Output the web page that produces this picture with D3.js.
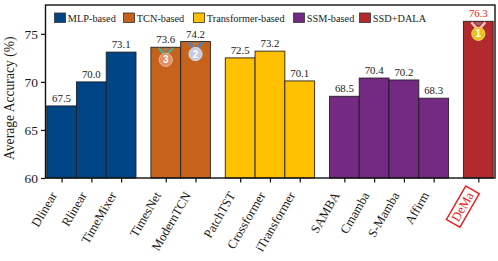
<!DOCTYPE html>
<html>
<head>
<meta charset="utf-8">
<script src="https://cdn.jsdelivr.net/npm/d3@7"></script>
<style>
  html, body { margin: 0; padding: 0; background: #fff; }
  text { font-family: "Liberation Serif", serif; fill: #1a1a1a; }
</style>
</head>
<body>
<svg id="chart" width="498" height="261"></svg>
<script>
const models = ["Dlinear", "Rlinear", "TimeMixer", "TimesNet", "ModernTCN", "PatchTST", "Crossformer", "iTransformer", "SAMBA", "Cmamba", "S-Mamba", "Affirm", "DeMa"];
const accuracy = [67.5, 70.0, 73.1, 73.6, 74.2, 72.5, 73.2, 70.1, 68.5, 70.4, 70.2, 68.3, 76.3];
const groupOf = [0, 0, 0, 1, 1, 2, 2, 2, 3, 3, 3, 3, 4];
const groups = ["MLP-based", "TCN-based", "Transformer-based", "SSM-based", "SSD+DALA"];
const groupColors = ["#004586", "#c5631c", "#ffc000", "#742a83", "#b22a2e"];
const yTicks = [60, 65, 70, 75];
const medals = [
  { model: "DeMa", rank: 1, ribbon: "#f7c4bc", disc: "#eec21c", ring: "#f6d75c" },
  { model: "ModernTCN", rank: 2, ribbon: "#4c86c6", disc: "#c3cbe0", ring: "#d8deec" },
  { model: "TimesNet", rank: 3, ribbon: "#3fb39a", disc: "#e08f68", ring: "#efb79c" }
];

const margin = { top: 5, right: 3, bottom: 83, left: 45.5 };
const width = 498, height = 261;

const svg = d3.select("#chart");

// half a bar of gap whenever the group changes
let pos = 0;
const barPos = models.map((m, i) => {
  if (i > 0 && groupOf[i] !== groupOf[i - 1]) pos += 1.5;
  else if (i > 0) pos += 1;
  return pos;
});

const x = d3.scaleLinear().domain([-0.54, 14.56]).range([margin.left, width - margin.right]);
const y = d3.scaleLinear().domain([60, 78]).range([height - margin.bottom, margin.top]);
const barW = x(1) - x(0);

svg.selectAll("rect.bar")
  .data(models)
  .enter().append("rect")
  .attr("class", "bar")
  .attr("x", (d, i) => x(barPos[i]) - barW / 2)
  .attr("y", (d, i) => y(accuracy[i]))
  .attr("width", barW)
  .attr("height", (d, i) => y(60) - y(accuracy[i]))
  .attr("fill", (d, i) => groupColors[groupOf[i]])
  .attr("stroke", "#1a1a1a")
  .attr("stroke-opacity", 0.85)
  .attr("stroke-width", 1);

// value labels
svg.selectAll("text.val")
  .data(models)
  .enter().append("text")
  .attr("class", "val")
  .attr("x", (d, i) => x(barPos[i]))
  .attr("y", (d, i) => y(accuracy[i]) - 4)
  .attr("text-anchor", "middle")
  .attr("font-size", 10.8)
  .style("fill", d => d === "DeMa" ? "#f01818" : "#1a1a1a")
  .text((d, i) => accuracy[i].toFixed(1));

// medals
medals.forEach(m => {
  const i = models.indexOf(m.model);
  const cx = x(barPos[i]);
  const top = y(accuracy[i]);
  const g = svg.append("g").attr("transform", `translate(${cx},${top})`);
  g.append("path")
    .attr("d", "M-7,1 L-1.5,7 M7,1 L1.5,7")
    .attr("stroke", m.ribbon).attr("stroke-width", 2.4).attr("fill", "none");
  g.append("path")
    .attr("d", "M-3.5,1 L3.5,1 L1.5,4 L-1.5,4 Z")
    .attr("fill", "#8a8f98").attr("opacity", 0.6);
  g.append("circle").attr("cx", 0).attr("cy", 12.5).attr("r", 6.6)
    .attr("fill", m.disc).attr("stroke", m.ring).attr("stroke-width", 1);
  g.append("text")
    .attr("x", 0).attr("y", 16)
    .attr("text-anchor", "middle")
    .attr("font-size", 10)
    .attr("font-weight", "bold")
    .style("font-family", "'Liberation Sans', sans-serif")
    .style("fill", "#fff")
    .text(m.rank);
});

// frame
svg.append("rect")
  .attr("x", margin.left).attr("y", margin.top)
  .attr("width", width - margin.left - margin.right)
  .attr("height", height - margin.top - margin.bottom)
  .attr("fill", "none")
  .attr("stroke", "#111")
  .attr("stroke-width", 1.4);

// y axis
const yAxis = svg.append("g")
  .attr("transform", `translate(${margin.left},0)`)
  .call(d3.axisLeft(y).tickValues(yTicks).tickSize(4.5).tickPadding(3));
yAxis.select(".domain").remove();
yAxis.selectAll("line").attr("stroke", "#111").attr("stroke-width", 1.2);
yAxis.selectAll("text").attr("font-size", 13.5).style("font-family", "'Liberation Serif', serif");

svg.append("text")
  .attr("transform", `translate(14,${y(68.3)}) rotate(-90)`)
  .attr("text-anchor", "middle")
  .attr("font-size", 13.6)
  .text("Average Accuracy (%)");

// x axis ticks + rotated names
const xAxis = svg.append("g")
  .attr("transform", `translate(0,${height - margin.bottom})`)
  .call(d3.axisBottom(x).tickValues(barPos).tickSize(4.5).tickFormat(""));
xAxis.select(".domain").remove();
xAxis.selectAll("line").attr("stroke", "#111").attr("stroke-width", 1.2);

const nameAt = i => `translate(${x(barPos[i]) - 4.2},${height - margin.bottom + 17}) rotate(-60)`;
const names = svg.selectAll("text.name")
  .data(models)
  .enter().append("text")
  .attr("class", "name")
  .attr("transform", (d, i) => nameAt(i))
  .attr("text-anchor", "end")
  .attr("font-size", 12.7)
  .style("fill", d => d === "DeMa" ? "#f01818" : "#1a1a1a")
  .text(d => d);

// box round the winner's name
names.filter(d => d === "DeMa").each(function (d) {
  const b = this.getBBox();
  d3.select(this.parentNode).append("rect")
    .attr("transform", nameAt(models.indexOf(d)))
    .attr("x", b.x - 3.3).attr("y", b.y - 0.8)
    .attr("width", b.width + 6.6).attr("height", b.height + 1.6)
    .attr("fill", "none")
    .attr("stroke", "#f01818")
    .attr("stroke-width", 1.4);
});

// legend
const legendX = [54.5, 123.5, 193.5, 293.5, 359.5];
const legend = svg.selectAll("g.leg")
  .data(groups)
  .enter().append("g")
  .attr("class", "leg")
  .attr("transform", (d, i) => `translate(${legendX[i]},13)`);
legend.append("rect")
  .attr("width", 11).attr("height", 9.5)
  .attr("fill", (d, i) => groupColors[i])
  .attr("stroke", "#333").attr("stroke-width", 0.8);
legend.append("text")
  .attr("x", 13.3).attr("y", 9.3)
  .attr("font-size", 10.3)
  .text(d => d);
</script>
</body>
</html>
